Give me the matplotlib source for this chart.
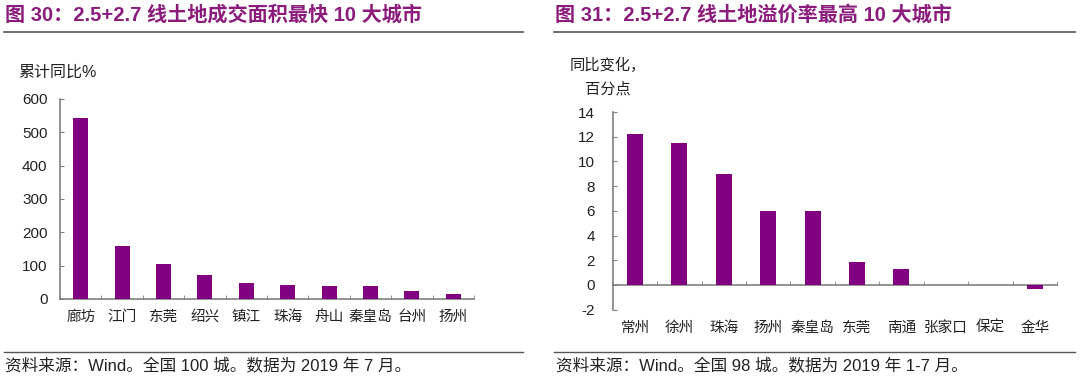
import matplotlib
matplotlib.use("Agg")
import matplotlib.pyplot as plt
import numpy as np
from matplotlib.lines import Line2D

plt.rcParams['font.family'] = ['Liberation Sans', 'Noto Sans CJK SC', 'DejaVu Sans']
plt.rcParams['axes.unicode_minus'] = False

# ---- data ----
cities_left = ['廊坊', '江门', '东莞', '绍兴', '镇江', '珠海', '舟山', '秦皇岛', '台州', '扬州']
values_left = [544, 159, 105, 71, 47, 41, 38, 38, 23, 14]
yticks_left = [0, 100, 200, 300, 400, 500, 600]

cities_right = ['常州', '徐州', '珠海', '扬州', '秦皇岛', '东莞', '南通', '张家口', '保定', '金华']
values_right = [12.2, 11.5, 9.0, 6.0, 6.0, 1.9, 1.3, 0.0, 0.0, -0.3]
yticks_right = [-2, 0, 2, 4, 6, 8, 10, 12, 14]

title_left = '图 30：2.5+2.7 线土地成交面积最快 10 大城市'
title_right = '图 31：2.5+2.7 线土地溢价率最高 10 大城市'
ylabel_left = '累计同比%'
ylabel_right = ['同比变化，', '百分点']
note_left = '资料来源：Wind。全国 100 城。数据为 2019 年 7 月。'
note_right = '资料来源：Wind。全国 98 城。数据为 2019 年 1-7 月。'

W, H = 1080, 381
fig = plt.figure(figsize=(W / 100, H / 100), dpi=100)
fig.patch.set_facecolor('white')

BAR = '#800080'
TITLE_C = '#8B1C7C'
AX_C = '#808080'

def px_rect(x0, x1, ytop, ybot):
    return [x0 / W, 1 - ybot / H, (x1 - x0) / W, (ybot - ytop) / H]

def style(ax, cats, vals, ylim, yt, ypad, xpad):
    x = np.arange(len(cats))
    ax.bar(x, vals, width=0.36, color=BAR, zorder=3)
    ax.set_xlim(-0.5, len(cats) - 0.5)
    ax.set_ylim(*ylim)
    ax.set_yticks(yt)
    ax.set_xticks(x)
    ax.set_xticklabels(cats)
    ax.set_xticks(np.arange(len(cats) + 1) - 0.5, minor=True)
    for s in ['top', 'right']:
        ax.spines[s].set_visible(False)
    for s in ['left', 'bottom']:
        ax.spines[s].set_color(AX_C)
        ax.spines[s].set_linewidth(1.2)
    ax.tick_params(axis='y', direction='in', length=3, color=AX_C, labelsize=11,
                   pad=ypad, labelcolor='#222222')
    ax.tick_params(axis='x', which='major', length=0, labelsize=10.5, pad=xpad,
                   labelcolor='#222222')
    ax.tick_params(axis='x', which='minor', direction='in', length=3, color=AX_C)
    ax.set_facecolor('none')

# left chart
axL = fig.add_axes(px_rect(60, 474, 99, 299))
style(axL, cities_left, values_left, (0, 600), yticks_left, 9, 8)

# right chart
axR = fig.add_axes(px_rect(612.7, 1057, 112, 309.7))
style(axR, cities_right, values_right, (-2, 14), yticks_right, 13, 26)
axR.spines['bottom'].set_position(('data', 0))

# titles
fig.text(5 / W, 1 - 15 / H, title_left, fontsize=14.5, fontweight='bold', color=TITLE_C,
         va='center', ha='left')
fig.text(555 / W, 1 - 15 / H, title_right, fontsize=14.5, fontweight='bold', color=TITLE_C,
         va='center', ha='left')

# rules
for (x0, x1) in [(4, 523), (554, 1075)]:
    fig.add_artist(Line2D([x0 / W, x1 / W], [1 - 32 / H, 1 - 32 / H], color='#555555', lw=1.2))
    fig.add_artist(Line2D([x0 / W, x1 / W], [1 - 352 / H, 1 - 352 / H], color='#555555', lw=1.0))

# y labels
fig.text(18 / W, 1 - 72 / H, ylabel_left, fontsize=11.5, color='#222222', va='center', ha='left')
fig.text(570 / W, 1 - 65 / H, ylabel_right[0], fontsize=11, color='#222222', va='center', ha='left')
fig.text(585 / W, 1 - 89 / H, ylabel_right[1], fontsize=11, color='#222222', va='center', ha='left')

# notes
fig.text(5 / W, 1 - 366 / H, note_left, fontsize=12, color='#222222', va='center', ha='left')
fig.text(556 / W, 1 - 366 / H, note_right, fontsize=12, color='#222222', va='center', ha='left')

fig.savefig('out.png', dpi=100, facecolor='white')
